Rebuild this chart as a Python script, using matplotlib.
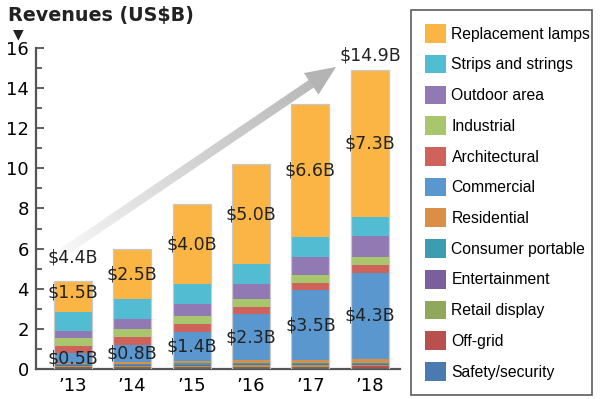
import matplotlib
matplotlib.use('Agg')
import matplotlib.pyplot as plt
from matplotlib.patches import Patch, Polygon
from matplotlib.collections import PolyCollection
from matplotlib.transforms import IdentityTransform
import numpy as np

# Data (US$ billions), stacked bottom -> top
years = ["\u201913", "\u201914", "\u201915", "\u201916", "\u201917", "\u201918"]
segments = ["Safety/security", "Off-grid", "Retail display", "Entertainment",
            "Consumer portable", "Residential", "Commercial", "Architectural",
            "Industrial", "Outdoor area", "Strips and strings", "Replacement lamps"]
colors = ["#4a7ab0", "#b8514e", "#8fa85c", "#7b5e9c", "#3c9db0", "#db8f46",
          "#5b97cf", "#d0625c", "#a8c66c", "#9179b4", "#52bcd3", "#fbb545"]

safety = [0.04, 0.05, 0.05, 0.06, 0.06, 0.07]
offgrid = [0.04, 0.05, 0.05, 0.06, 0.06, 0.06]
retail = [0.05, 0.05, 0.06, 0.06, 0.06, 0.06]
entertainment = [0.05, 0.05, 0.06, 0.06, 0.06, 0.06]
consumer = [0.05, 0.06, 0.06, 0.06, 0.06, 0.07]
residential = [0.08, 0.10, 0.12, 0.15, 0.16, 0.18]
commercial = [0.47, 0.84, 1.46, 2.29, 3.47, 4.29]
architectural = [0.37, 0.41, 0.38, 0.36, 0.38, 0.39]
industrial = [0.40, 0.38, 0.40, 0.39, 0.37, 0.42]
outdoor = [0.37, 0.49, 0.60, 0.75, 0.90, 1.03]
strips = [0.93, 0.99, 0.98, 0.99, 0.98, 0.96]
replacement = [1.53, 2.53, 4.00, 4.97, 6.62, 7.30]

series = [safety, offgrid, retail, entertainment, consumer, residential,
          commercial, architectural, industrial, outdoor, strips, replacement]

commercial_labels = ["$0.5B", "$0.8B", "$1.4B", "$2.3B", "$3.5B", "$4.3B"]
replacement_labels = ["$1.5B", "$2.5B", "$4.0B", "$5.0B", "$6.6B", "$7.3B"]
total_labels = {0: "$4.4B", 5: "$14.9B"}

fig = plt.figure(figsize=(6, 3.99), dpi=100)
ax = fig.add_axes([0.06, 0.075, 0.607, 0.805])

x = np.arange(len(years))
width = 0.64
bottom = np.zeros(len(years))
bottoms = {}
for name, vals, c in zip(segments, series, colors):
    vals = np.array(vals)
    ax.bar(x, vals, width, bottom=bottom, color=c, linewidth=0, zorder=2)
    bottoms[name] = bottom.copy()
    bottom = bottom + vals
totals = bottom
# thin light outline around each stacked bar
ax.bar(x, totals, width, fill=False, edgecolor="#c8c8c8", linewidth=0.9, zorder=3)

lab_font = dict(fontsize=12.5, ha="center", va="center", color="#222222", zorder=5)
for i in x:
    ax.text(i, bottoms["Commercial"][i] + commercial[i] / 2, commercial_labels[i], **lab_font)
    ax.text(i, bottoms["Replacement lamps"][i] + replacement[i] / 2 + (0.2 if i == 0 else 0),
            replacement_labels[i], **lab_font)
for i, t in total_labels.items():
    ax.text(i, totals[i] + (1.2 if i == 0 else 0.75), t, clip_on=False, **lab_font)

ax.set_xlim(-0.62, 5.51)
ax.set_ylim(0, 16)
ax.set_yticks(np.arange(0, 17, 2))
ax.set_yticks(np.arange(1, 16, 2), minor=True)
ax.set_xticks(x)
ax.set_xticklabels(years)
ax.tick_params(axis="y", which="major", direction="in", length=6, width=1.3,
               color="#555555", labelsize=13, pad=5)
ax.tick_params(axis="y", which="minor", direction="in", length=4, width=1.3, color="#555555")
ax.tick_params(axis="x", length=0, labelsize=13, pad=6)
for s in ["top", "right"]:
    ax.spines[s].set_visible(False)
for s in ["left", "bottom"]:
    ax.spines[s].set_color("#555555")
    ax.spines[s].set_linewidth(1.6)

# growth arrow with gradient (display coords)
tail = ax.transData.transform((-0.3, 5.55))
tip = ax.transData.transform((4.43, 15.05))
d = tip - tail
L = np.hypot(*d)
u = d / L
n = np.array([-u[1], u[0]])
half_w, head_w, head_l = 4.5, 13, 30
base = tip - u * head_l
steps = 80
polys, cols = [], []
for k in range(steps):
    a = tail + (base - tail) * k / steps
    b = tail + (base - tail) * (k + 1.05) / steps
    polys.append([a + n * half_w, b + n * half_w, b - n * half_w, a - n * half_w])
    g = 0.99 - 0.27 * (k / steps) ** 0.8
    cols.append((g, g, g))
pc = PolyCollection(polys, facecolors=cols, edgecolors="none", transform=IdentityTransform(), zorder=1)
ax.add_collection(pc)
head = Polygon([base + n * head_w, tip, base - n * head_w], closed=True,
               facecolor="#b4b4b4", edgecolor="none", transform=IdentityTransform(), zorder=1)
ax.add_patch(head)

fig.text(0.013, 0.962, "Revenues (US$B)", fontsize=13.8, fontweight="bold",
         color="#222222", va="center", ha="left")
fig.text(0.03, 0.914, "\u25bc", fontsize=10, color="#222222", va="center", ha="center")

handles = [Patch(facecolor=c, edgecolor="none") for c in colors][::-1]
leg = fig.legend(handles, segments[::-1], loc="upper left", mode="expand",
                 bbox_to_anchor=(0.685, 0.975, 0.302, 0.0), frameon=True, fancybox=False,
                 prop={"family": ["Liberation Sans", "DejaVu Sans"], "size": 11.3},
                 handlelength=1.3, handleheight=1.45, handletextpad=0.38,
                 labelspacing=0.77, borderpad=0.9, borderaxespad=0)
leg.get_frame().set_edgecolor("#333333")
leg.get_frame().set_linewidth(1.2)

fig.savefig("out.png", dpi=100)
